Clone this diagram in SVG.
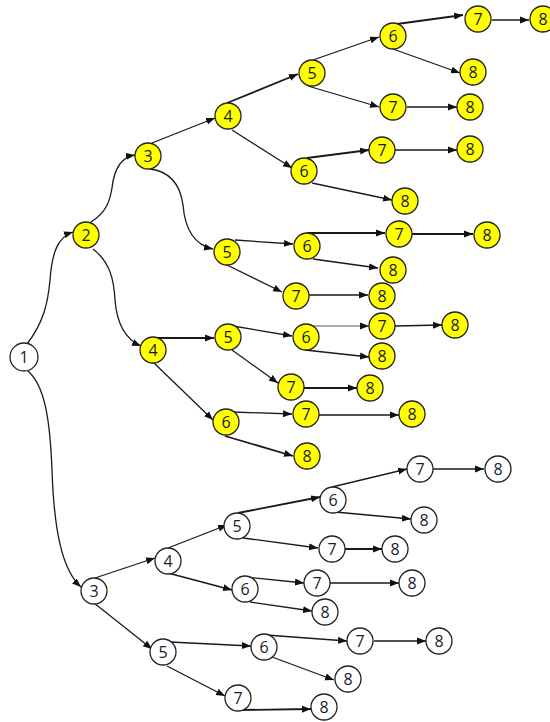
<svg xmlns="http://www.w3.org/2000/svg" width="550" height="722" viewBox="0 0 550 722">
<defs>
<marker id="ah" markerUnits="userSpaceOnUse" markerWidth="10" markerHeight="8" refX="9" refY="4" orient="auto">
<path d="M0,0.5 L9,4 L0,7.5 Z" fill="#111"/>
</marker>
<style>
.e{fill:none;stroke:#1a1a1a;stroke-width:1.3;marker-end:url(#ah)}
.t{stroke-width:1.8}
.l{stroke:#555;stroke-width:1}
.n circle{stroke:#222;stroke-width:1.3}
.y circle{fill:#ffff00}
.w circle{fill:#ffffff}
.n text{font-family:"Open Sans","Liberation Sans",sans-serif;font-size:16px;fill:#1a1a30;text-anchor:middle;dominant-baseline:central}
</style>
</defs>
<rect width="550" height="722" fill="#fff"/>
<g id="connectors">
<path class="e" d="M27,344 C44,322 48,302 50,280 C52,252 58,237 73,232"/>
<path class="e" d="M91,222 C107,212 110,200 112,188 C114,170 121,157 135,155"/>
<path class="e" d="M93,249 C110,262 114,280 115,300 C117,325 127,340 141,346"/>
<path class="e" d="M150,169 C174,172 181,190 183,205 C185,230 195,245 213,249"/>
<path class="e" d="M28,371 C45,386 50,420 52,470 C54,530 62,570 81,587"/>
<path class="e" d="M152,143 L215,118"/>
<path class="e t" d="M227,103 L298,74"/>
<path class="e" d="M232,130 L292,168"/>
<path class="e" d="M313,60 L379,37"/>
<path class="e t" d="M397,24 L463,15"/>
<path class="e" d="M492,20 L529,20"/>
<path class="e" d="M393,49 L460,73"/>
<path class="e" d="M308,86 L379,107"/>
<path class="e" d="M407,107 L457,107"/>
<path class="e t" d="M307,158 L369,150"/>
<path class="e" d="M395,150 L457,150"/>
<path class="e" d="M312,183 L392,200"/>
<path class="e" d="M235,240 L293,244"/>
<path class="e t" d="M307,233 L385,233"/>
<path class="e t" d="M412,234 L473,234"/>
<path class="e" d="M313,259 L378,268"/>
<path class="e" d="M223,263 L282,292"/>
<path class="e" d="M309,295 L368,295"/>
<path class="e t" d="M148,338 L214,338"/>
<path class="e" d="M233,326 L292,336"/>
<path class="e l" d="M308,326 L369,326"/>
<path class="e" d="M395,326 L442,325"/>
<path class="e" d="M305,350 L369,357"/>
<path class="e" d="M232,350 L278,383"/>
<path class="e t" d="M303,388 L357,388"/>
<path class="e" d="M154,363 L213,420"/>
<path class="e" d="M233,412 L292,414"/>
<path class="e" d="M318,415 L399,415"/>
<path class="e t" d="M225,436 L293,456"/>
<path class="e" d="M95,578 L155,558"/>
<path class="e" d="M168,548 L227,525"/>
<path class="e t" d="M168,573 L232,590"/>
<path class="e" d="M94,603 L152,649"/>
<path class="e t" d="M238,513 L320,497"/>
<path class="e" d="M332,487 L407,469"/>
<path class="e" d="M433,469 L484,469"/>
<path class="e" d="M335,512 L411,519"/>
<path class="e" d="M243,538 L318,548"/>
<path class="e t" d="M345,549 L382,549"/>
<path class="e" d="M246,577 L304,583"/>
<path class="e" d="M330,583 L399,583"/>
<path class="e" d="M250,602 L312,611"/>
<path class="e" d="M170,642 L251,646"/>
<path class="e" d="M266,635 L347,641"/>
<path class="e" d="M374,641 L426,641"/>
<path class="e" d="M272,657 L334,680"/>
<path class="e" d="M167,666 L225,696"/>
<path class="e t" d="M240,710 L311,709"/>
</g>
<g id="n1" class="n w"><circle cx="24" cy="357" r="14"/><text x="24" y="357">1</text></g>
<g id="y2" class="n y"><circle cx="86" cy="235" r="13"/><text x="86" y="235">2</text></g>
<g id="y3" class="n y"><circle cx="148" cy="156" r="13"/><text x="148" y="156">3</text></g>
<g id="y4a" class="n y"><circle cx="228" cy="116" r="13"/><text x="228" y="116">4</text></g>
<g id="y5a" class="n y"><circle cx="312" cy="73" r="13"/><text x="312" y="73">5</text></g>
<g id="y6a" class="n y"><circle cx="393" cy="36" r="13"/><text x="393" y="36">6</text></g>
<g id="y7a" class="n y"><circle cx="478" cy="19" r="13"/><text x="478" y="19">7</text></g>
<g id="y8a" class="n y"><circle cx="543" cy="19" r="13"/><text x="543" y="19">8</text></g>
<g id="y8b" class="n y"><circle cx="473" cy="72" r="13"/><text x="473" y="72">8</text></g>
<g id="y7b" class="n y"><circle cx="393" cy="107" r="13"/><text x="393" y="107">7</text></g>
<g id="y8c" class="n y"><circle cx="470" cy="107" r="13"/><text x="470" y="107">8</text></g>
<g id="y6b" class="n y"><circle cx="304" cy="171" r="13"/><text x="304" y="171">6</text></g>
<g id="y7c" class="n y"><circle cx="382" cy="150" r="13"/><text x="382" y="150">7</text></g>
<g id="y8d" class="n y"><circle cx="470" cy="149" r="13"/><text x="470" y="149">8</text></g>
<g id="y8e" class="n y"><circle cx="405" cy="201" r="13"/><text x="405" y="201">8</text></g>
<g id="y5b" class="n y"><circle cx="227" cy="252" r="13"/><text x="227" y="252">5</text></g>
<g id="y6c" class="n y"><circle cx="307" cy="246" r="13"/><text x="307" y="246">6</text></g>
<g id="y7d" class="n y"><circle cx="399" cy="234" r="13"/><text x="399" y="234">7</text></g>
<g id="y8f" class="n y"><circle cx="487" cy="235" r="13"/><text x="487" y="235">8</text></g>
<g id="y8g" class="n y"><circle cx="393" cy="270" r="13"/><text x="393" y="270">8</text></g>
<g id="y7e" class="n y"><circle cx="296" cy="296" r="13"/><text x="296" y="296">7</text></g>
<g id="y8h" class="n y"><circle cx="382" cy="296" r="13"/><text x="382" y="296">8</text></g>
<g id="y4b" class="n y"><circle cx="153" cy="350" r="13"/><text x="153" y="350">4</text></g>
<g id="y5c" class="n y"><circle cx="228" cy="337" r="13"/><text x="228" y="337">5</text></g>
<g id="y6d" class="n y"><circle cx="306" cy="337" r="13"/><text x="306" y="337">6</text></g>
<g id="y7f" class="n y"><circle cx="382" cy="326" r="13"/><text x="382" y="326">7</text></g>
<g id="y8i" class="n y"><circle cx="455" cy="325" r="13"/><text x="455" y="325">8</text></g>
<g id="y8j" class="n y"><circle cx="382" cy="356" r="13"/><text x="382" y="356">8</text></g>
<g id="y7g" class="n y"><circle cx="291" cy="387" r="13"/><text x="291" y="387">7</text></g>
<g id="y8k" class="n y"><circle cx="370" cy="388" r="13"/><text x="370" y="388">8</text></g>
<g id="y6e" class="n y"><circle cx="226" cy="422" r="13"/><text x="226" y="422">6</text></g>
<g id="y7h" class="n y"><circle cx="306" cy="414" r="13"/><text x="306" y="414">7</text></g>
<g id="y8l" class="n y"><circle cx="412" cy="414" r="13"/><text x="412" y="414">8</text></g>
<g id="y8m" class="n y"><circle cx="307" cy="456" r="13"/><text x="307" y="456">8</text></g>
<g id="w3" class="n w"><circle cx="94" cy="591" r="13"/><text x="94" y="591">3</text></g>
<g id="w4" class="n w"><circle cx="168" cy="561" r="13"/><text x="168" y="561">4</text></g>
<g id="w5a" class="n w"><circle cx="237" cy="526" r="13"/><text x="237" y="526">5</text></g>
<g id="w6a" class="n w"><circle cx="333" cy="500" r="13"/><text x="333" y="500">6</text></g>
<g id="w7a" class="n w"><circle cx="420" cy="469" r="13"/><text x="420" y="469">7</text></g>
<g id="w8a" class="n w"><circle cx="498" cy="469" r="13"/><text x="498" y="469">8</text></g>
<g id="w8b" class="n w"><circle cx="424" cy="520" r="13"/><text x="424" y="520">8</text></g>
<g id="w7b" class="n w"><circle cx="332" cy="549" r="13"/><text x="332" y="549">7</text></g>
<g id="w8c" class="n w"><circle cx="395" cy="549" r="13"/><text x="395" y="549">8</text></g>
<g id="w6b" class="n w"><circle cx="245" cy="589" r="13"/><text x="245" y="589">6</text></g>
<g id="w7c" class="n w"><circle cx="317" cy="583" r="13"/><text x="317" y="583">7</text></g>
<g id="w8d" class="n w"><circle cx="412" cy="583" r="13"/><text x="412" y="583">8</text></g>
<g id="w8e" class="n w"><circle cx="325" cy="612" r="13"/><text x="325" y="612">8</text></g>
<g id="w5b" class="n w"><circle cx="163" cy="652" r="13"/><text x="163" y="652">5</text></g>
<g id="w6c" class="n w"><circle cx="264" cy="647" r="13"/><text x="264" y="647">6</text></g>
<g id="w7d" class="n w"><circle cx="360" cy="641" r="13"/><text x="360" y="641">7</text></g>
<g id="w8f" class="n w"><circle cx="439" cy="641" r="13"/><text x="439" y="641">8</text></g>
<g id="w8g" class="n w"><circle cx="348" cy="679" r="13"/><text x="348" y="679">8</text></g>
<g id="w7e" class="n w"><circle cx="238" cy="698" r="13"/><text x="238" y="698">7</text></g>
<g id="w8h" class="n w"><circle cx="324" cy="707" r="13"/><text x="324" y="707">8</text></g>
</svg>
